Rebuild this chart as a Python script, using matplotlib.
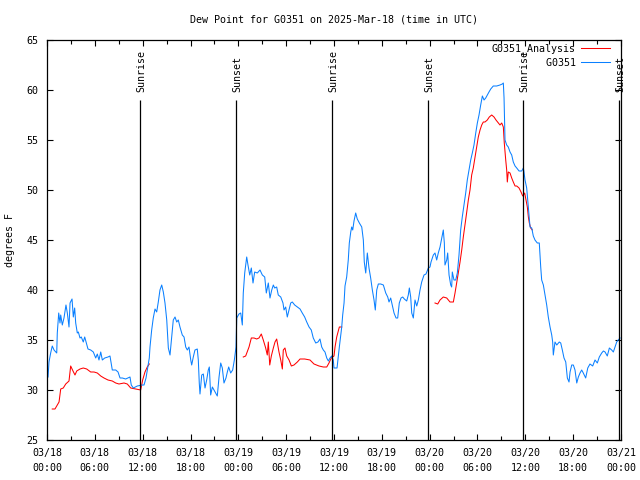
import matplotlib
matplotlib.use("Agg")
import matplotlib.pyplot as plt
import numpy as np

# hours since 03/18 00:00 UTC, dew point in degrees F
obs_hours = [0.13, 0.25, 0.46, 0.66, 0.88, 1.22, 1.29, 1.47, 1.63, 1.72, 1.92, 2.13, 2.38, 2.55, 2.76, 2.89,
             3.14, 3.30, 3.47, 3.60, 3.80, 3.93, 4.14, 4.30, 4.55, 4.73, 4.93, 5.14, 5.48, 5.81, 6.11, 6.31,
             6.52, 6.74, 6.94, 7.24, 7.65, 7.90, 8.19, 8.62, 8.91, 9.16, 9.45, 9.87, 10.41, 10.57, 10.83,
             11.33, 11.95, 12.17, 12.42, 12.58, 12.83, 12.92, 13.13, 13.33, 13.55, 13.76, 13.96, 14.17,
             14.39, 14.59, 14.80, 15.02, 15.22, 15.43, 15.64, 15.84, 16.06, 16.27, 16.47, 16.68, 16.97,
             17.19, 17.40, 17.60, 17.81, 18.03, 18.15, 18.35, 18.56, 18.85, 18.98, 19.10, 19.19, 19.41,
             19.61, 19.82, 20.03, 20.23, 20.36, 20.53, 20.74, 20.95, 21.16, 21.36, 21.58, 21.79, 21.99,
             22.20, 22.45, 22.62, 22.79, 23.04, 23.29, 23.50, 23.71, 23.80, 24.08, 24.30, 24.50, 24.62,
             24.80, 25.05, 25.21, 25.43, 25.63, 25.84, 26.05, 26.38, 26.72, 27.01, 27.31, 27.51, 27.76,
             27.97, 28.19, 28.39, 28.56, 28.81, 29.01, 29.32, 29.60, 29.73, 29.94, 30.14, 30.36, 30.57,
             30.77, 31.07, 31.40, 31.74, 32.02, 32.32, 32.58, 32.87, 33.15, 33.40, 33.71, 33.99, 34.24,
             34.46, 34.66, 34.87, 35.09, 35.29, 35.50, 35.71, 35.91, 36.00, 36.38, 36.67, 36.97, 37.09,
             37.26, 37.38, 37.59, 37.79, 37.92, 38.10, 38.22, 38.35, 38.51, 38.72, 38.92, 39.18, 39.48,
             39.68, 39.80, 39.98, 40.18, 40.39, 40.60, 40.81, 41.02, 41.18, 41.36, 41.56, 41.86, 42.19,
             42.49, 42.74, 42.90, 43.11, 43.31, 43.53, 43.78, 43.99, 44.19, 44.41, 44.62, 44.82, 45.12,
             45.32, 45.45, 45.62, 45.75, 45.95, 46.16, 46.38, 46.58, 46.79, 47.00, 47.29, 47.54, 47.83,
             48.04, 48.17, 48.46, 48.67, 48.88, 49.08, 49.30, 49.51, 49.71, 49.84, 49.92, 50.14, 50.26,
             50.43, 50.64, 50.76, 50.84, 51.05, 51.27, 51.47, 51.68, 51.89, 52.09, 52.31, 52.52, 52.72,
             52.93, 53.15, 53.35, 53.56, 53.78, 53.98, 54.19, 54.40, 54.61, 54.82, 55.03, 55.23, 55.44,
             55.66, 55.98, 56.41, 56.82, 57.11, 57.24, 57.33, 57.45, 57.66, 57.86, 58.08, 58.29, 58.49,
             58.71, 58.92, 59.21, 59.55, 59.75, 59.83, 59.96, 60.17, 60.38, 60.59, 60.80, 61.00, 61.21,
             61.50, 61.75, 61.93, 62.05, 62.26, 62.47, 62.68, 62.88, 63.10, 63.31, 63.43, 63.51, 63.72,
             63.94, 64.26, 64.44, 64.64, 64.85, 65.07, 65.27, 65.48, 65.61, 65.82, 66.02, 66.23, 66.45,
             66.65, 66.86, 67.07, 67.27, 67.57, 67.83, 68.11, 68.45, 68.74, 69.03, 69.28, 69.58, 69.79,
             70.00, 70.28, 70.54, 70.83, 71.04, 71.25, 71.46, 71.66, 71.88]
obs_dew = [31.3, 32.8, 33.7, 34.4, 34.0, 33.7, 35.7, 37.7, 36.7, 37.5, 36.5, 37.2, 38.5, 37.7, 36.3, 38.7,
           39.1, 37.3, 38.2, 36.7, 35.7, 35.8, 35.2, 35.3, 34.8, 35.3, 34.7, 34.1, 34.0, 33.8, 33.2, 33.6,
           33.0, 33.8, 33.0, 33.2, 33.3, 33.4, 32.0, 32.0, 31.8, 31.2, 31.2, 31.1, 31.3, 30.5, 30.2,
           30.4, 30.5, 30.5, 31.2, 32.0, 33.2, 34.3, 36.0, 37.2, 38.1, 37.8, 38.8, 40.0,
           40.5, 39.8, 38.7, 37.0, 34.2, 33.5, 35.3, 37.0, 37.3, 36.8, 37.0, 36.3, 35.5,
           35.3, 34.3, 34.0, 34.3, 33.0, 32.5, 33.3, 34.0, 34.1, 33.0, 30.7, 29.6, 31.5,
           31.6, 30.2, 31.0, 32.0, 32.3, 29.5, 30.3, 30.0, 29.7, 29.4, 31.3, 32.7, 32.2,
           30.7, 31.2, 31.8, 32.3, 31.7, 32.0, 33.0, 34.3, 37.2, 37.6, 37.7, 36.5, 39.7,
           41.7, 43.3, 42.5, 41.5, 42.2, 40.7, 41.8, 41.7, 42.0, 41.5, 41.3, 39.7, 40.7,
           39.2, 40.0, 40.5, 40.2, 40.3, 39.5, 39.3, 38.7, 38.0, 38.3, 37.3, 38.0, 38.7,
           38.8, 38.5, 38.3, 38.1, 37.7, 37.3, 36.8, 36.3, 36.0, 35.2, 34.7, 34.8, 35.1,
           34.3, 34.0, 33.8, 33.2, 32.9, 33.2, 33.4, 33.0, 32.2, 32.2, 34.3, 36.3, 37.5,
           38.7, 40.4, 41.3, 43.0, 44.7, 45.8, 46.3, 46.0, 46.9, 47.7, 47.1, 46.7, 46.3,
           45.0, 42.8, 41.7, 43.7, 42.2, 41.2, 40.0, 39.0, 38.0, 40.0, 40.6, 40.6, 40.5,
           39.7, 39.3, 38.8, 39.2, 38.5, 37.7, 37.2, 37.2, 38.7, 39.2, 39.3, 39.1, 38.9,
           39.5, 40.2, 39.3, 37.7, 37.2, 39.0, 38.4, 39.0, 40.0, 40.8, 41.5, 41.6, 42.2,
           42.3, 42.8, 43.5, 43.7, 43.0, 43.7, 44.3, 45.2, 46.0, 44.7, 42.5, 43.0, 43.7,
           41.5, 40.5, 40.3, 41.8, 41.0, 41.0, 41.7, 43.5, 46.0, 47.3, 48.5, 49.7, 51.0,
           52.0, 53.0, 53.7, 54.5, 55.7, 56.7, 57.5, 58.5, 59.4, 59.0, 59.2, 59.5, 59.8,
           60.1, 60.4, 60.4, 60.5, 60.6, 60.7, 59.2, 55.0, 54.5, 54.3, 53.8, 53.5, 52.8,
           52.4, 52.2, 51.9, 51.9, 52.2, 51.8, 51.0, 50.2, 48.3, 46.3, 46.2, 45.4, 45.0,
           44.7, 44.7, 42.3, 41.0, 40.5, 39.5, 38.5, 37.3, 36.3, 35.5, 34.8, 33.5, 34.8,
           34.5, 34.8, 34.7, 34.0, 33.2, 32.8, 31.2, 30.8, 31.8, 32.5, 32.5, 32.0, 30.7,
           31.3, 31.7, 32.0, 31.7, 31.2, 32.2, 32.6, 32.4, 33.0, 32.7, 33.3, 33.7, 33.9,
           33.8, 33.4, 34.2, 34.0, 33.8, 34.3, 34.8, 35.0, 35.2]

# analysis series, None marks a gap in the data
ana_hours = [0.66, 1.00, 1.51, 1.72, 2.04, 2.35, 2.76, 2.97, 3.26, 3.51, 3.73, 4.14, 4.55, 4.98, 5.48,
             5.90, 6.31, 6.74, 7.15, 7.65, 8.19, 8.62, 9.03, 9.66, 10.07, 10.50, 11.13, 11.75, 12.00,
             12.29, 12.58, 12.83, None,
             24.62, 24.92, 25.34, 25.63, 25.97, 26.30, 26.59, 26.88, 27.13, 27.43, 27.63, 27.76, 27.94,
             28.14, 28.39, 28.60, 28.81, 29.10, 29.32, 29.52, 29.64, 29.85, 30.07, 30.36, 30.65, 30.98,
             31.40, 31.74, 32.32, 32.99, 33.49, 34.12, 34.66, 35.09, 35.37, 35.66, 36.00, 36.13, 36.34,
             36.67, 36.97, None,
             48.67, 49.01, 49.30, 49.71, 50.14, 50.55, 50.97, 51.18, 51.39, 51.59, 51.81, 52.02, 52.22,
             52.43, 52.65, 52.85, 53.06, 53.27, 53.47, 53.69, 53.90, 54.10, 54.32, 54.53, 54.73, 54.94,
             55.23, 55.48, 55.78, 56.07, 56.32, 56.61, 56.82, 57.04, 57.24, 57.36, 57.54, 57.66, 57.74,
             57.86, 58.08, 58.29, 58.49, 58.71, 58.92, 59.21, 59.46, 59.67, 59.92, 60.09, 60.25, 60.38,
             60.50, 60.67, 60.88]
ana_dew = [28.1, 28.1, 28.8, 30.1, 30.2, 30.6, 30.9, 32.4, 31.9, 31.5, 31.9, 32.1, 32.2, 32.1, 31.8,
           31.8, 31.7, 31.4, 31.2, 31.0, 30.9, 30.7, 30.6, 30.7, 30.6, 30.2, 30.1, 30.0, 31.0,
           31.8, 32.3, 32.6, None,
           33.3, 33.4, 34.3, 35.2, 35.2, 35.1, 35.2, 35.6, 35.0, 34.2, 33.5, 34.8, 32.5,
           33.4, 34.2, 34.8, 35.1, 33.8, 33.0, 32.1, 34.0, 34.2, 33.4, 33.0, 32.4, 32.5,
           32.8, 33.1, 33.1, 33.0, 32.6, 32.4, 32.3, 32.3, 32.7, 33.2, 33.4, 34.3, 35.3,
           36.3, 36.3, None,
           38.7, 38.6, 39.0, 39.3, 39.2, 38.8, 38.8, 39.7, 40.7, 41.7, 42.8, 44.0, 45.3,
           46.5, 47.8, 49.0, 50.0, 51.5, 52.2, 53.3, 54.3, 55.3, 56.0, 56.5, 56.8, 56.8,
           57.0, 57.3, 57.5, 57.3, 57.0, 56.7, 56.5, 56.7, 56.3, 54.7, 53.0, 52.0, 50.8,
           51.8, 51.7, 51.2, 50.8, 50.4, 50.4, 50.2, 49.8, 49.4, 49.7, 49.0, 48.3, 47.3,
           46.7, 46.2, 46.0]

sunrise_hours = [11.68, 35.72, 59.72]
sunset_hours = [23.72, 47.77, 71.8]

tick_hours = list(range(0, 73, 6))
tick_labels = ["03/18\n00:00", "03/18\n06:00", "03/18\n12:00", "03/18\n18:00",
               "03/19\n00:00", "03/19\n06:00", "03/19\n12:00", "03/19\n18:00",
               "03/20\n00:00", "03/20\n06:00", "03/20\n12:00", "03/20\n18:00",
               "03/21\n00:00"]

plt.rcParams['font.family'] = 'DejaVu Sans Mono'
plt.rcParams['font.size'] = 7.2

fig = plt.figure(figsize=(6.4, 4.8), dpi=100)
ax = fig.add_axes([47 / 640, 40 / 480, 574 / 640, 400 / 480])

ana_x = np.array([np.nan if v is None else v for v in ana_hours])
ana_y = np.array([np.nan if v is None else v for v in ana_dew])

ax.plot(ana_x, ana_y, color='#ff0000', lw=0.75, label='G0351_Analysis')
ax.plot(obs_hours, obs_dew, color='#0a80ff', lw=0.75, label='G0351'.rjust(14))

for t in sunrise_hours:
    ax.vlines(t, 25, 59, color='black', lw=0.9)
    ax.text(t + 0.15, 59.8, 'Sunrise', rotation=90, ha='center', va='bottom', clip_on=False)
for t in sunset_hours:
    ax.vlines(t, 25, 59, color='black', lw=0.9)
    ax.text(t + 0.15, 59.8, 'Sunset', rotation=90, ha='center', va='bottom', clip_on=False)

ax.set_xlim(0, 72)
ax.set_ylim(25, 65)
ax.set_xticks(tick_hours)
ax.set_xticklabels(tick_labels, linespacing=1.6)
ax.set_xticks(range(3, 72, 6), minor=True)
ax.set_yticks(range(25, 66, 5))
ax.tick_params(which='both', direction='in', top=True, right=True, width=0.8)
ax.tick_params(which='major', length=4)
ax.tick_params(which='minor', length=3)
ax.tick_params(axis='y', pad=6)
ax.tick_params(axis='x', pad=6)
for s in ax.spines.values():
    s.set_linewidth(0.9)

fig.text(334 / 640, 1 - 19 / 480, 'Dew Point for G0351 on 2025-Mar-18 (time in UTC)',
         ha='center', va='center')
fig.text(10 / 640, 0.5, 'degrees F', rotation=90, ha='center', va='center')

ax.legend(loc='upper right', bbox_to_anchor=(610 / 640, 1 - 43 / 480),
          bbox_transform=fig.transFigure, frameon=False, markerfirst=False,
          handlelength=2.9, handletextpad=0.5, labelspacing=0.4, borderpad=0,
          borderaxespad=0)

fig.savefig('out.png', dpi=100)
